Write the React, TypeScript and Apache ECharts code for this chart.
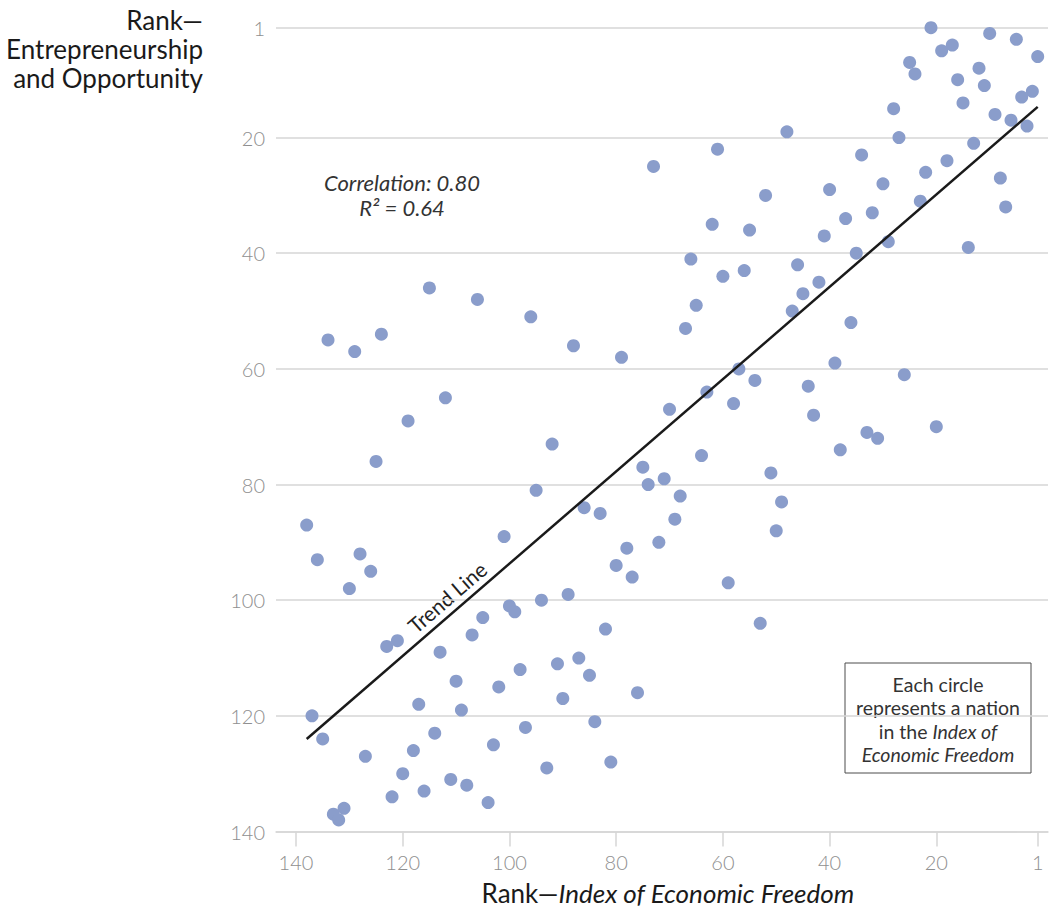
import React, { useEffect, useRef } from 'react';
import * as echarts from 'echarts';

// [Index of Economic Freedom rank, Entrepreneurship & Opportunity rank]
const nationRanks: [number, number][] = [
  [21, 1], [10, 2], [5, 3], [1, 6], [19, 5], [17, 4], [25, 7], [24, 9], [16, 10], [12, 8],
  [11, 11], [2, 12], [4, 13], [15, 14], [28, 15], [9, 16], [6, 17], [3, 18], [48, 19], [27, 20], [13, 21],
  [61, 22], [73, 25], [52, 30], [62, 35], [55, 36], [66, 41], [60, 44], [56, 43], [65, 49], [67, 53],
  [96, 51], [88, 56], [79, 58], [57, 60], [54, 62], [63, 64], [58, 66],
  [115, 46], [106, 48], [134, 55], [129, 57], [124, 54], [112, 65], [119, 69], [125, 76], [138, 87],
  [136, 93], [128, 92], [101, 89],
  [126, 95], [130, 98], [123, 108], [121, 107], [137, 120], [135, 124], [127, 127], [133, 137], [132, 138],
  [131, 136], [122, 134], [120, 130], [118, 126], [116, 133], [114, 123], [117, 118], [113, 109], [110, 114],
  [109, 119], [111, 131], [108, 132], [104, 135], [107, 106], [105, 103], [100, 101], [99, 102], [102, 115],
  [98, 112], [103, 125], [97, 122],
  [92, 73], [95, 81], [86, 84], [83, 85], [78, 91], [80, 94], [77, 96], [72, 90], [89, 99], [94, 100],
  [82, 105], [91, 111], [87, 110], [85, 113], [90, 117], [84, 121], [76, 116], [93, 129], [81, 128],
  [75, 77], [74, 80], [71, 79], [68, 82], [69, 86], [70, 67], [64, 75], [59, 97], [53, 104], [51, 78],
  [49, 83], [50, 88], [47, 50], [46, 42], [45, 47], [42, 45], [41, 37], [40, 29], [37, 34], [34, 23],
  [35, 40], [36, 52], [39, 59], [44, 63], [43, 68], [38, 74], [33, 71], [31, 72], [32, 33], [30, 28],
  [29, 38], [26, 61], [23, 31], [22, 26], [18, 24], [20, 70], [14, 39], [8, 27], [7, 32],
];

const trendLine: [number, number][] = [[138, 124], [1, 14.7]];

const xTicks = [140, 120, 100, 80, 60, 40, 20, 1];
const yTicks = [1, 20, 40, 60, 80, 100, 120, 140];

const xTitle = 'Rank—{i|Index of Economic Freedom}';
const yTitle = 'Rank—\nEntrepreneurship\nand Opportunity';
const statsText = 'Correlation: 0.80\nR² = 0.64';
const trendText = 'Trend Line';
const noteText = 'Each circle\nrepresents a nation\nin the {i|Index of}\n{i|Economic Freedom}';

const FONT = 'Lato, "Open Sans", sans-serif';
const GRID = '#d6d6d6';
const TICK_TEXT = '#8f8f8f';
const DOT = '#8A9DCB';

export default function App() {
  const ref = useRef<HTMLDivElement>(null);

  useEffect(() => {
    document.body.style.margin = '0';
    if (!ref.current) return;
    const chart = echarts.init(ref.current, undefined, { renderer: 'svg' });
    chart.setOption({
      animation: false,
      textStyle: { fontFamily: FONT },
      grid: { left: 276, right: 3, top: 27.7, bottom: 82.5, containLabel: false },
      xAxis: {
        type: 'value',
        inverse: true,
        min: -0.93,
        max: 143.75,
        axisLine: { show: true, lineStyle: { color: GRID, width: 1.5 } },
        axisTick: { show: true, customValues: xTicks, length: 15, lineStyle: { color: GRID, width: 1.5 } },
        axisLabel: { customValues: xTicks, color: TICK_TEXT, fontSize: 20, fontWeight: 300, margin: 20, fontFamily: FONT },
        splitLine: { show: false },
      },
      yAxis: {
        type: 'value',
        inverse: true,
        min: 1,
        max: 140,
        axisLine: { show: false },
        axisTick: { show: false, customValues: yTicks },
        axisLabel: { customValues: yTicks, color: TICK_TEXT, fontSize: 20, fontWeight: 300, margin: 11, fontFamily: FONT },
        splitLine: { show: true, lineStyle: { color: GRID, width: 1.5 } },
      },
      series: [
        {
          type: 'scatter',
          data: nationRanks,
          symbolSize: 13,
          itemStyle: { color: DOT, opacity: 1 },
          z: 2,
        },
        {
          type: 'line',
          data: trendLine,
          symbol: 'none',
          lineStyle: { color: '#1a1a1a', width: 2.5 },
          z: 3,
        },
      ],
      graphic: [
        {
          type: 'text',
          x: 203,
          y: 5.5,
          style: {
            text: yTitle,
            fontSize: 26,
            lineHeight: 29,
            fontFamily: FONT,
            fill: '#1a1a1a',
            align: 'right',
            verticalAlign: 'top',
          },
        },
        {
          type: 'text',
          x: 668,
          y: 893,
          style: {
            text: xTitle,
            fontSize: 26,
            fontFamily: FONT,
            fill: '#1a1a1a',
            align: 'center',
            verticalAlign: 'middle',
            rich: { i: { fontStyle: 'italic', fontSize: 26, fontFamily: FONT, fill: '#1a1a1a' } },
          },
        },
        {
          type: 'text',
          x: 402,
          y: 194.5,
          style: {
            text: statsText,
            fontSize: 22,
            lineHeight: 25,
            fontStyle: 'italic',
            fontFamily: FONT,
            fill: '#333',
            align: 'center',
            verticalAlign: 'middle',
          },
        },
        {
          type: 'text',
          x: 447,
          y: 597,
          rotation: 0.712,
          style: {
            text: trendText,
            fontSize: 21,
            fontFamily: FONT,
            fill: '#222',
            align: 'center',
            verticalAlign: 'middle',
          },
        },
        {
          type: 'rect',
          shape: { x: 845, y: 663, width: 186, height: 110 },
          style: { fill: '#fff', stroke: '#4d4d4d', lineWidth: 1 },
        },
        {
          type: 'text',
          x: 938,
          y: 719.5,
          style: {
            text: noteText,
            fontSize: 19.5,
            lineHeight: 23.3,
            fontFamily: FONT,
            fill: '#333',
            align: 'center',
            verticalAlign: 'middle',
            rich: { i: { fontStyle: 'italic', fontSize: 19.5, lineHeight: 23.3, fontFamily: FONT, fill: '#333' } },
          },
        },
      ],
    });
    return () => chart.dispose();
  }, []);

  return (
    <div
      ref={ref}
      style={{ position: 'absolute', left: 0, top: 0, width: 1051, height: 914 }}
    />
  );
}
